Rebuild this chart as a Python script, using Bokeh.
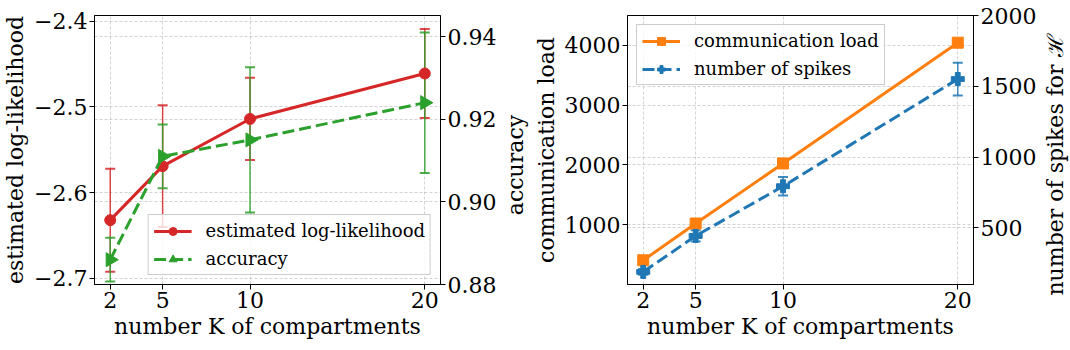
import math
from bokeh.plotting import figure
from bokeh.models import (Range1d, LinearAxis, FixedTicker, Grid, Whisker,
                          TeeHead, ColumnDataSource, Legend, LegendItem)
from bokeh.core.properties import value
from bokeh.layouts import row
from bokeh.embed import file_html
from bokeh.resources import INLINE

# ---------------- data ----------------
K = [2, 5, 10, 20]
loglik = [-2.632, -2.569, -2.514, -2.461]
loglik_err = [0.060, 0.071, 0.048, 0.052]
accuracy = [0.886, 0.911, 0.915, 0.924]
accuracy_err = [0.0053, 0.0077, 0.0176, 0.0170]
comm_load = [405, 1020, 2025, 4045]
spikes = [189, 443, 794, 1551]
spikes_err = [20, 40, 66, 116]

x_ticks = [2, 5, 10, 20]
ll_ticks = [-2.7, -2.6, -2.5, -2.4]
ll_labels = ["\u22122.7", "\u22122.6", "\u22122.5", "\u22122.4"]
acc_ticks = [0.88, 0.9, 0.92, 0.94]
acc_labels = ["0.88", "0.90", "0.92", "0.94"]
load_ticks = [1000, 2000, 3000, 4000]
spike_ticks = [500, 1000, 1500, 2000]

# ---------------- style ----------------
TICK_FONT = "'DejaVu Serif', 'Noto Serif', 'Liberation Serif', serif"
FONT = "DejaVu Serif"
LEGEND_FONT = "DejaVu Serif, serif"
RED = "#d62728"
GREEN = "#2ca02c"
ORANGE = "#ff7f0e"
BLUE = "#1f77b4"
GRID_COLOR = "#b0b0b0"
FW, FH = 346, 269
TOP, BOTTOM = 15, 60
H = TOP + FH + BOTTOM


def style_axis(ax):
    ax.axis_label_text_font = FONT
    ax.axis_label_text_font_size = "22px"
    ax.axis_label_text_font_style = "normal"
    ax.axis_label_text_color = "black"
    ax.major_label_text_font = TICK_FONT
    ax.major_label_text_font_size = "22px"
    ax.major_label_text_color = "black"
    ax.axis_line_color = "black"
    ax.major_tick_line_color = "black"
    ax.major_tick_in = 0
    ax.major_tick_out = 5
    ax.minor_tick_line_color = None
    ax.major_label_standoff = 2
    ax.axis_label_standoff = 3


def make_fig(y_lo, y_hi, bl, br):
    p = figure(frame_width=FW, frame_height=FH,
               x_range=Range1d(1.1, 20.9), y_range=Range1d(y_lo, y_hi),
               output_backend="svg", toolbar_location=None,
               min_border_left=bl, min_border_right=br,
               min_border_top=TOP, min_border_bottom=BOTTOM)
    p.outline_line_color = "black"
    p.outline_line_alpha = 1
    p.outline_line_width = 1
    p.background_fill_color = "white"
    p.border_fill_color = "white"
    p.xaxis.ticker = FixedTicker(ticks=x_ticks)
    p.xaxis.axis_label = "number K of compartments"
    style_axis(p.xaxis[0])
    style_axis(p.yaxis[0])
    for g in (p.xgrid[0], p.ygrid[0]):
        g.grid_line_color = GRID_COLOR
        g.grid_line_dash = "3 2"
        g.grid_line_width = 0.8
        g.grid_line_alpha = 0.7
    return p


def label_strip(text, width):
    # narrow figure holding a right-hand axis title that reads bottom-to-top
    f = figure(frame_width=width, frame_height=H, x_range=Range1d(0, width),
               y_range=Range1d(0, H), output_backend="svg", toolbar_location=None,
               x_axis_type=None, y_axis_type=None, min_border=0)
    f.outline_line_color = None
    f.grid.visible = False
    f.border_fill_color = "white"
    f.background_fill_color = "white"
    f.text(x=[width / 2], y=[BOTTOM + FH / 2], text=[text], angle=math.pi / 2,
           text_align="center", text_baseline="middle",
           text_font=value(FONT), text_font_size="22px", text_color="black")
    return f


def add_err(p, xs, ys, errs, color, range_name="default"):
    src = ColumnDataSource(dict(x=xs,
                                lower=[y - e for y, e in zip(ys, errs)],
                                upper=[y + e for y, e in zip(ys, errs)]))
    w = Whisker(source=src, base="x", lower="lower", upper="upper",
                dimension="height", line_color=color, line_width=1.5,
                line_alpha=0.85, y_range_name=range_name,
                upper_head=TeeHead(size=10, line_color=color, line_width=2, line_alpha=0.85),
                lower_head=TeeHead(size=10, line_color=color, line_width=2, line_alpha=0.85))
    p.add_layout(w)


def add_legend(p, items, loc):
    lg = Legend(items=[LegendItem(label=lab, renderers=rs) for lab, rs in items],
                location=loc,
                label_text_font=LEGEND_FONT, label_text_font_size="18px",
                label_text_font_style="normal", label_text_color="black",
                glyph_width=38, glyph_height=20, label_standoff=14, label_height=20,
                padding=5, spacing=7, margin=9,
                border_line_color="#cccccc", border_line_alpha=1, border_line_width=1,
                background_fill_color="white", background_fill_alpha=0.8)
    p.add_layout(lg)


# ---------------- left panel ----------------
p1 = make_fig(-2.707, -2.3934, 94, 57)
p1.yaxis.ticker = FixedTicker(ticks=ll_ticks)
p1.yaxis.major_label_overrides = dict(zip(ll_ticks, ll_labels))
p1.yaxis.axis_label = "estimated log-likelihood"
p1.extra_y_ranges = {"acc": Range1d(0.88, 0.9451)}
ax_acc = LinearAxis(y_range_name="acc", ticker=FixedTicker(ticks=acc_ticks))
ax_acc.major_label_overrides = dict(zip(acc_ticks, acc_labels))
style_axis(ax_acc)
p1.add_layout(ax_acc, "right")
p1.add_layout(Grid(dimension=1, ticker=FixedTicker(ticks=acc_ticks), y_range_name="acc",
                   grid_line_color=GRID_COLOR, grid_line_dash="3 2",
                   grid_line_width=0.8, grid_line_alpha=0.7))

add_err(p1, K, loglik, loglik_err, RED)
add_err(p1, K, accuracy, accuracy_err, GREEN, "acc")
l1 = p1.line(K, loglik, color=RED, line_width=3)
m1 = p1.scatter(K, loglik, marker="circle", size=11, color=RED)
l2 = p1.line(K, accuracy, color=GREEN, line_width=3, line_dash="12 5", y_range_name="acc")
m2 = p1.scatter(K, accuracy, marker="triangle", angle=-math.pi / 2, size=14, color=GREEN,
                y_range_name="acc")
add_legend(p1, [("estimated log-likelihood", [l1, m1]), ("accuracy", [l2, m2])],
           "bottom_right")
s1 = label_strip("accuracy", 31)

# ---------------- right panel ----------------
p2 = make_fig(0, 4500, 96, 66)
p2.yaxis.ticker = FixedTicker(ticks=load_ticks)
p2.yaxis.axis_label = "communication load"
p2.extra_y_ranges = {"spk": Range1d(100, 2000)}
ax_spk = LinearAxis(y_range_name="spk", ticker=FixedTicker(ticks=spike_ticks))
style_axis(ax_spk)
p2.add_layout(ax_spk, "right")
p2.add_layout(Grid(dimension=1, ticker=FixedTicker(ticks=spike_ticks), y_range_name="spk",
                   grid_line_color=GRID_COLOR, grid_line_dash="3 2",
                   grid_line_width=0.8, grid_line_alpha=0.7))

add_err(p2, K, spikes, spikes_err, BLUE, "spk")
l3 = p2.line(K, comm_load, color=ORANGE, line_width=3)
m3 = p2.scatter(K, comm_load, marker="square", size=11, color=ORANGE)
l4 = p2.line(K, spikes, color=BLUE, line_width=3, line_dash="12 5", y_range_name="spk")
m4 = p2.scatter(K, spikes, marker="plus", size=13, color=BLUE, y_range_name="spk")
add_legend(p2, [("communication load", [l3, m3]), ("number of spikes", [l4, m4])],
           "top_left")
s2 = label_strip("number of spikes for \u210b", 32)

layout = row(p1, s1, p2, s2)
open("out.html", "w").write(file_html(layout, INLINE))
